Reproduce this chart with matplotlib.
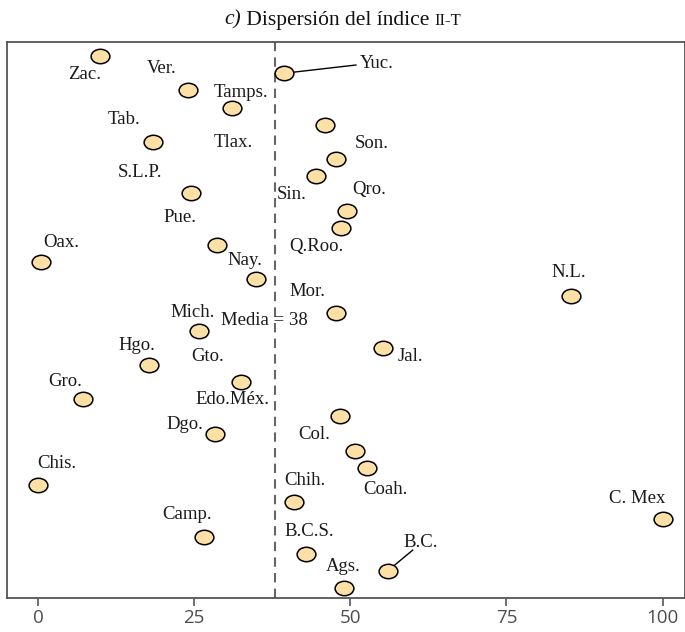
import matplotlib
matplotlib.use("Agg")
import matplotlib.pyplot as plt
from matplotlib.path import Path
from matplotlib.transforms import Affine2D

# ── Data ──────────────────────────────────────────────────────────
states = ["Ags.", "B.C.", "B.C.S.", "Camp.", "C. Mex", "Chih.", "Chis.", "Coah.",
          "Col.", "Dgo.", "Edo.Méx.", "Gro.", "Gto.", "Hgo.", "Jal.", "Mich.",
          "Mor.", "N.L.", "Nay.", "Oax.", "Pue.", "Q.Roo.", "Qro.", "S.L.P.",
          "Sin.", "Son.", "Tab.", "Tamps.", "Tlax.", "Ver.", "Yuc.", "Zac."]
index_iit = [49.0, 56.0, 42.9, 26.6, 100.0, 41.0, 0.0, 52.7,
             50.7, 28.3, 48.3, 7.2, 32.5, 17.8, 55.2, 25.8,
             47.7, 85.3, 34.9, 0.5, 28.7, 48.5, 49.5, 24.5,
             44.5, 47.7, 18.4, 45.9, 31.1, 24.0, 39.4, 9.9]
mean_value = 38
x_ticks = [0, 25, 50, 75, 100]

# label placement (data coords) — hand tuned to avoid overlaps
label_pos = {
    "Zac.": (7.5, 30.95), "Ver.": (19.85, 31.3), "Tamps.": (32.5, 29.9),
    "Tab.": (13.8, 28.33), "Tlax.": (31.2, 26.99), "S.L.P.": (16.3, 25.24),
    "Pue.": (22.7, 22.62), "Sin.": (40.7, 23.96), "Yuc.": (54.2, 31.54),
    "Son.": (53.5, 26.93), "Qro.": (53.0, 24.25), "Oax.": (3.8, 21.16),
    "Q.Roo.": (44.5, 20.93), "Nay.": (33.1, 20.11), "N.L.": (85.0, 19.36),
    "Mor.": (43.1, 18.31), "Mich.": (24.8, 17.08), "Jal.": (59.6, 14.52),
    "Hgo.": (15.9, 15.16), "Gto.": (27.2, 14.52), "Gro.": (4.3, 13.06),
    "Edo.Méx.": (31.2, 11.96), "Dgo.": (23.5, 10.56), "Col.": (44.3, 9.97),
    "Chis.": (3.0, 8.28), "Coah.": (55.7, 6.77), "Chih.": (42.7, 7.24),
    "C. Mex": (95.9, 6.19), "Camp.": (23.9, 5.31), "B.C.S.": (43.5, 4.32),
    "B.C.": (61.3, 3.68), "Ags.": (48.8, 2.28),
}
# labels that get a leader segment: end point of the segment
leaders = {"Yuc.": (50.9, 31.48), "B.C.": (60.0, 3.21)}

SERIF = "Liberation Serif"
FILL = "#fde0a6"
GREY = "#555555"

# ── Plot ──────────────────────────────────────────────────────────
fig = plt.figure(figsize=(6.85, 6.32), dpi=100)
ax = fig.add_axes([0.0102, 0.0538, 0.9898, 0.8797])

ypos = list(range(1, len(states) + 1))

for name, x, y in zip(states, index_iit, ypos):
    if name in leaders:
        ex, ey = leaders[name]
        ax.plot([x, ex], [y, ey], color="black", lw=1.0, zorder=2)

ax.axvline(mean_value, color="#666666", lw=1.5, ls=(0, (4.5, 3)), zorder=1)

ellipse = Path.unit_circle().transformed(Affine2D().scale(1.3, 1.0))
ax.plot(index_iit, ypos, ls="none", marker=ellipse, ms=13.5,
        mfc=FILL, mec="black", mew=1.1, zorder=3)

for name in states:
    lx, ly = label_pos[name]
    ax.text(lx, ly, name, ha="center", va="center", fontsize=13.5,
            family=SERIF, color="#1a1a1a", zorder=4)

ax.text(36.3, 16.62, f"Media = {mean_value}", ha="center", va="center",
        fontsize=13.5, family=SERIF, color="#1a1a1a", zorder=4)

ax.set_xlim(-4.96, 103.6)
ax.set_ylim(0.42, 32.82)
ax.set_xticks(x_ticks)
ax.set_xticklabels([str(t) for t in x_ticks], family="Open Sans",
                   fontsize=13.5, color="#4d4d4d")
ax.set_yticks([])
ax.tick_params(axis="x", length=6, width=1.2, color=GREY, pad=2)
for side in ax.spines.values():
    side.set_color(GREY)
    side.set_linewidth(1.3)

# ── Title (italic "c)", small caps "II-T") ───────────────────────
fig.canvas.draw()
renderer = fig.canvas.get_renderer()
parts = [("c)", dict(style="italic", fontsize=15.5)),
         (" Dispersión del índice ", dict(fontsize=15.5)),
         ("II-T", dict(fontsize=12))]
texts = []
for s, kw in parts:
    t = fig.text(0, 0.9605, s, family=SERIF, va="baseline", color="#111111", **kw)
    texts.append(t)
widths = [t.get_window_extent(renderer).width / fig.bbox.width for t in texts]
x0 = 0.5 - sum(widths) / 2
for t, w in zip(texts, widths):
    t.set_x(x0)
    x0 += w

fig.savefig("out.png", dpi=100)
